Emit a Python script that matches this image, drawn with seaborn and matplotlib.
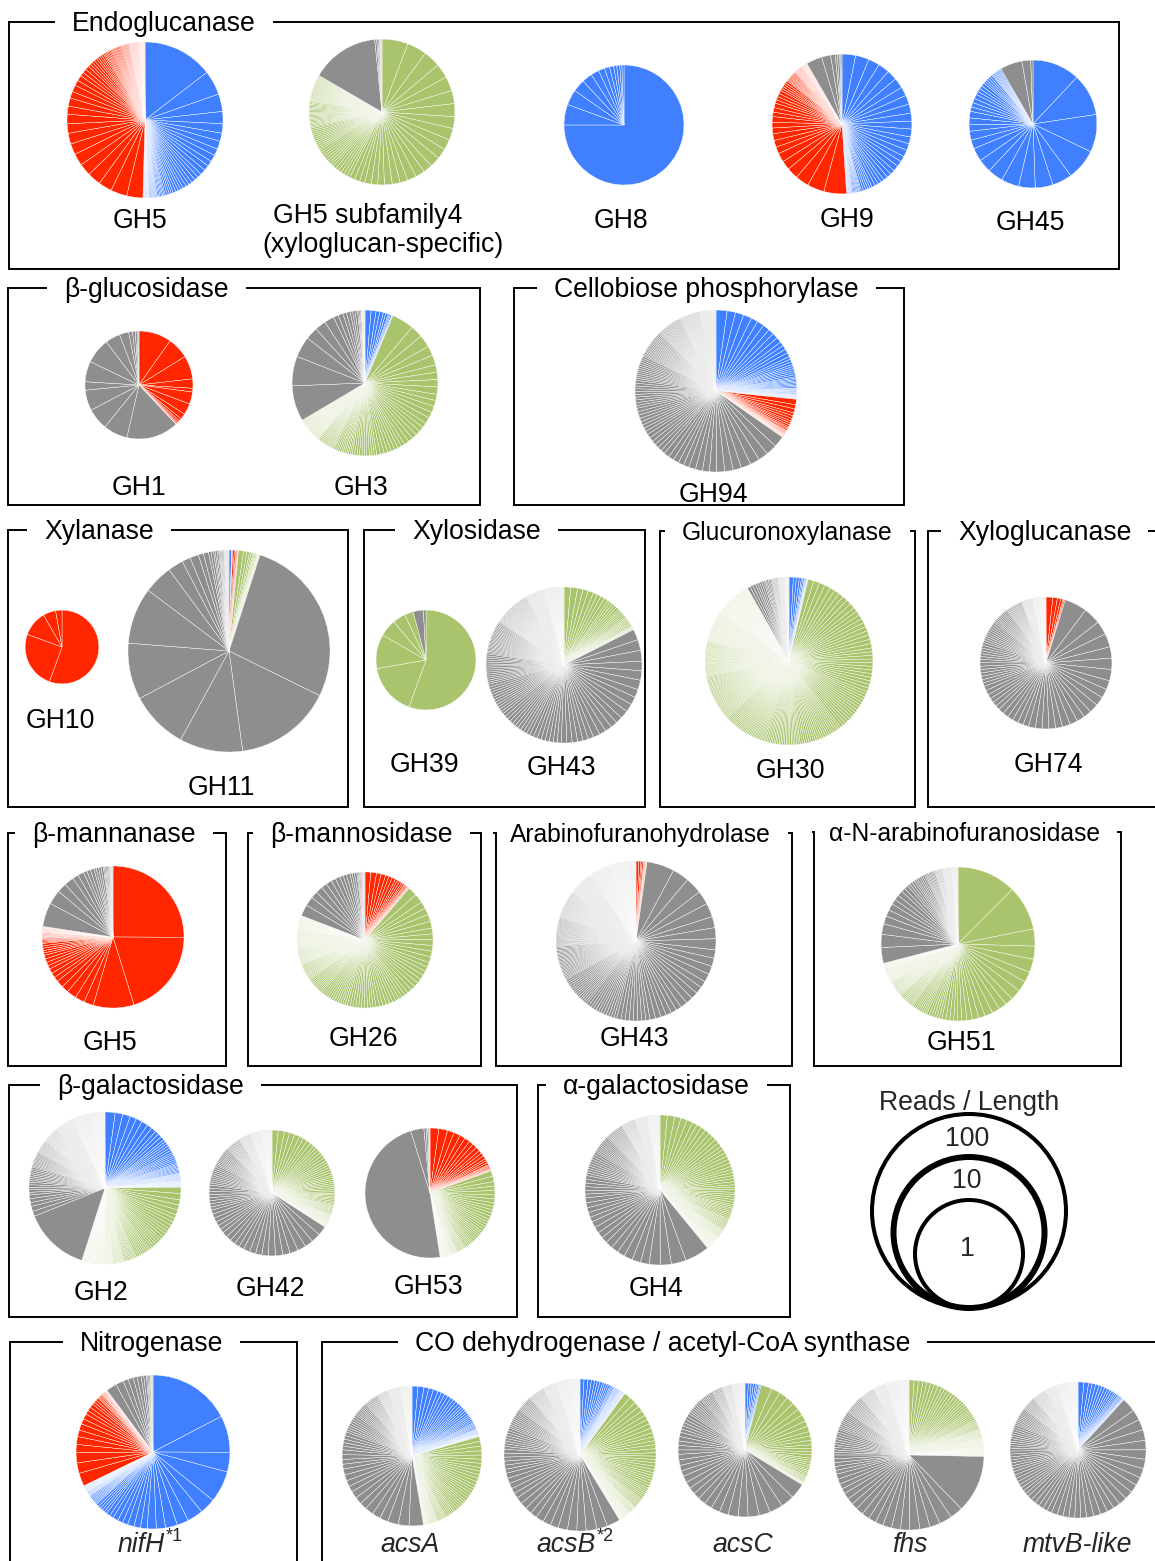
import matplotlib
matplotlib.use("Agg")
import matplotlib.pyplot as plt
from matplotlib.patches import Circle
import numpy as np
import seaborn as sns

W, H = 1155, 1561

sns.set_theme(style="white")
plt.rcParams["font.family"] = ["Liberation Sans", "DejaVu Sans"]

# taxonomic groups -> colours
PALETTE = dict(zip(["blue", "red", "green", "gray"],
                   sns.color_palette(["#4080FF", "#FF2600", "#A9C46C", "#8E8E8E"])))

# Wedge sizes of each pie as (size, number of wedges) runs, in drawing order
# (from 12 o'clock, clockwise). Each wedge is one gene.
gh5_endo = {
    "blue": [(52, 1), (18, 1), (13, 1), (9, 1), (7, 1), (6, 2), (5, 2), (4, 3), (3, 3), (2.5, 3),
             (2, 4), (1.5, 4), (1, 6), (0.6, 10), (0.3, 15)],
    "red": [(12, 2), (10, 2), (9, 2), (8, 2), (7, 2), (6, 2), (5, 2), (4, 2), (3, 3), (2, 4),
            (1.5, 4), (1, 6), (0.8, 10), (0.6, 10), (0.3, 25), (0.15, 30)],
}
gh5_sub4 = {
    "green": [(20, 1), (15, 1), (13, 1), (11, 2), (10, 2), (9, 2), (8, 3), (7, 3), (6, 3), (5, 3),
              (4, 3), (2.5, 6), (2, 8), (1.5, 12), (1, 20), (0.7, 30)],
    "gray": [(52, 1), (1.5, 1), (1, 2), (0.5, 4)],
}
gh8 = {
    "blue": [(270, 1), (20, 1), (15, 1), (12, 1), (10, 1), (8, 1), (6, 1), (5, 1), (4, 1), (3, 2), (2, 2)],
}
gh9 = {
    "blue": [(12, 2), (10, 2), (9, 2), (8, 3), (7, 3), (6, 3), (5, 3), (4, 3), (3, 4), (2, 5), (1, 8), (0.5, 10)],
    "red": [(20, 1), (15, 1), (12, 1), (10, 1), (8, 2), (6, 3), (5, 3), (4, 3), (3, 4), (2, 5), (1, 10),
            (0.5, 16), (0.25, 20)],
    "gray": [(14, 1), (8, 1), (4, 1), (2, 2), (1, 2)],
}
gh45 = {
    "blue": [(43, 1), (38, 1), (34, 1), (28, 1), (18, 1), (16, 1), (15, 1), (16, 1), (14, 1), (12, 2),
             (8, 2), (6, 3), (4, 4), (3, 4), (2, 5), (1, 10)],
    "gray": [(20, 1), (8, 1), (2, 1)],
}
gh1 = {
    "red": [(35, 1), (23, 1), (25, 1), (10, 1), (4, 1), (13, 1), (12, 1), (6, 1), (3, 1), (2, 1),
            (1.5, 1), (1, 1), (0.5, 1)],
    "gray": [(56, 1), (26, 1), (23, 1), (22, 1), (9, 1), (22, 1), (27, 1), (16, 1), (10, 1), (4, 1),
             (3, 1), (2, 1), (1, 2)],
}
gh3 = {
    "blue": [(5, 1), (4, 1), (3, 2), (2, 2), (1, 3), (0.5, 2)],
    "green": [(18, 1), (10, 2), (8, 2), (6, 4), (5, 5), (4, 6), (3, 8), (2, 10), (1.5, 10), (1, 15), (0.5, 40)],
    "gray": [(29, 1), (24, 1), (17, 1), (10, 1), (9, 1), (8, 1), (4, 2), (3, 2), (2, 3), (1, 3), (0.3, 10)],
}
gh94 = {
    "blue": [(8, 1), (6, 3), (5, 3), (4, 3), (3, 4), (2, 3), (1.5, 6), (1, 8), (0.5, 10), (0.25, 12)],
    "red": [(4, 1), (3, 2), (2, 3), (1.5, 3), (1, 3), (0.5, 6), (0.25, 10)],
    "gray": [(8, 2), (7, 3), (6, 3), (5, 4), (4, 5), (3, 6), (2.5, 8), (2, 10), (1.5, 12), (1, 20),
             (0.7, 25), (0.5, 30), (0.3, 40)],
}
gh10 = {
    "red": [(200, 1), (90, 1), (40, 1), (20, 1), (10, 1)],
}
gh11 = {
    "blue": [(1.5, 1), (0.3, 2)],
    "red": [(1, 1), (0.8, 1), (0.5, 2), (0.3, 2)],
    "green": [(3, 1), (2, 1), (1.5, 1), (1, 2), (0.6, 4), (0.3, 6)],
    "gray": [(100, 1), (57, 1), (37, 1), (34, 1), (33, 2), (17, 1), (9, 1), (5, 2), (3, 2), (1.5, 2),
             (1, 3), (0.6, 5), (0.3, 10)],
}
gh39 = {
    "green": [(200, 1), (60, 1), (40, 1), (20, 1), (15, 1), (10, 1)],
    "gray": [(12, 1), (3, 1)],
}
gh43_xyl = {
    "green": [(5, 2), (4, 3), (3, 4), (2, 5), (1.5, 5), (1, 8), (0.5, 6)],
    "gray": [(8, 3), (7, 3), (6, 4), (5, 5), (4, 6), (3, 8), (2.5, 10), (2, 12), (1.5, 15), (1, 25),
             (0.6, 45), (0.35, 40), (0.25, 60)],
}
gh30 = {
    "blue": [(3, 1), (2, 2), (1.5, 1), (1, 2), (0.5, 3), (0.25, 4)],
    "green": [(4, 4), (3.5, 6), (3, 10), (2.5, 12), (2, 15), (1.5, 20), (1.2, 20), (1, 30), (0.8, 40),
              (0.6, 40), (0.35, 60), (0.25, 100)],
    "gray": [(2, 3), (1.5, 4), (1, 5), (0.6, 8), (0.3, 15), (0.2, 15)],
}
gh74 = {
    "red": [(6, 1), (4, 1), (3, 1), (2, 1), (1, 2)],
    "gray": [(20, 1), (15, 1), (12, 2), (10, 3), (8, 4), (7, 4), (6, 5), (5, 6), (4, 6), (3, 8), (2.5, 6),
             (2, 10), (1.5, 10), (1, 15), (0.5, 20), (0.3, 20), (0.2, 30)],
}
gh5_man = {
    "red": [(92, 1), (74, 1), (34, 1), (8, 3), (6, 2), (4, 3), (3, 4), (2, 5), (1, 4), (0.5, 10), (0.25, 20)],
    "gray": [(20, 1), (12, 1), (8, 2), (5, 2), (3, 3), (2, 4), (1, 5), (0.5, 6)],
}
gh26 = {
    "red": [(5, 2), (4, 2), (3, 3), (2, 3), (1.5, 2), (1, 3), (0.5, 4)],
    "green": [(8, 2), (6, 4), (5, 6), (4, 8), (3, 10), (2.5, 10), (2, 12), (1.5, 10), (1, 15), (0.6, 25),
              (0.4, 40), (0.3, 40)],
    "gray": [(10, 1), (8, 1), (6, 2), (5, 2), (4, 2), (3, 3), (2, 3), (1, 4), (0.5, 6)],
}
gh43_arab = {
    "red": [(2, 1), (1.5, 1), (1, 2), (0.5, 3), (0.3, 3)],
    "gray": [(20, 1), (12, 2), (10, 2), (8, 3), (6, 4), (5, 5), (4, 6), (3, 8), (2, 12), (1.5, 15), (1, 25),
             (0.7, 30), (0.5, 40), (0.35, 50), (0.25, 60), (0.2, 100)],
}
gh51 = {
    "green": [(45, 1), (34, 1), (13, 1), (10, 2), (8, 3), (6, 4), (5, 2), (4, 2), (3, 5), (2, 6), (1.5, 8),
              (1, 12), (0.6, 20), (0.35, 30), (0.25, 20)],
    "gray": [(12, 1), (10, 1), (8, 1), (6, 1), (5, 2), (4, 3), (3, 2), (2, 3), (1.5, 6), (1, 8), (0.6, 10),
             (0.35, 20), (0.25, 20)],
}
gh2 = {
    "blue": [(8, 1), (6, 2), (5, 3), (4, 2), (3, 3), (2, 6), (1.5, 6), (1, 8), (0.5, 12), (0.25, 20)],
    "green": [(5, 2), (4, 3), (3, 4), (2.5, 4), (2, 6), (1.5, 8), (1, 10), (0.6, 15), (0.35, 20),
              (0.25, 30), (0.2, 50)],
    "gray": [(52, 1), (4, 2), (3, 3), (2, 5), (1.5, 8), (1, 12), (0.7, 15), (0.5, 25), (0.35, 40),
             (0.25, 60), (0.2, 60)],
}
gh42 = {
    "green": [(6, 2), (5, 3), (4, 4), (3, 6), (2.5, 6), (2, 8), (1.5, 8), (1, 10), (0.6, 10), (0.4, 10), (0.3, 10)],
    "gray": [(9, 2), (8, 3), (7, 3), (6, 4), (5, 5), (4, 6), (3, 8), (2, 10), (1.5, 12), (1, 15), (0.6, 20),
             (0.35, 30), (0.25, 40)],
}
gh53 = {
    "red": [(8, 2), (6, 2), (5, 2), (4, 3), (3, 3), (2, 3), (1, 4), (0.5, 4)],
    "green": [(5, 2), (4, 3), (3.5, 3), (3, 4), (2.5, 5), (2, 6), (1.5, 6), (1, 8), (0.6, 10), (0.35, 15), (0.25, 20)],
    "gray": [(174, 1), (12, 1), (2, 1), (1.5, 1), (1, 1), (0.5, 2)],
}
gh4 = {
    "green": [(6, 2), (5, 3), (4, 4), (3.5, 4), (3, 6), (2.5, 6), (2, 8), (1.5, 8), (1, 10), (0.6, 12),
              (0.35, 20), (0.25, 20)],
    "gray": [(20, 1), (12, 1), (9, 2), (7, 3), (6, 3), (5, 4), (4, 5), (3, 6), (2, 10), (1.5, 10), (1, 15),
             (0.6, 20), (0.35, 30), (0.25, 40)],
}
nifh = {
    "blue": [(63, 1), (28, 1), (15, 1), (24, 1), (12, 2), (9, 2), (7, 2), (5, 3), (4, 3), (3, 2), (2, 5),
             (1, 8), (0.5, 8), (0.25, 20)],
    "red": [(10, 1), (8, 2), (6, 2), (5, 2), (4, 2), (3, 3), (2, 3), (1, 4), (0.5, 6), (0.25, 8)],
    "gray": [(8, 1), (6, 1), (4, 2), (3, 2), (2, 2), (1, 3), (0.5, 4)],
}
acsa = {
    "blue": [(5, 2), (4, 3), (3, 4), (2.5, 4), (2, 5), (1.5, 5), (1, 6), (0.5, 8), (0.25, 10)],
    "green": [(4, 3), (3.5, 4), (3, 5), (2.5, 6), (2, 6), (1.5, 6), (1, 8), (0.6, 10), (0.35, 10), (0.25, 10)],
    "gray": [(12, 1), (9, 2), (7, 3), (6, 3), (5, 4), (4, 4), (3, 5), (2, 8), (1.5, 8), (1, 12), (0.6, 16),
             (0.35, 30), (0.25, 40)],
}
acsb = {
    "blue": [(3, 2), (2.5, 2), (2, 3), (1.5, 4), (1, 3), (0.6, 8), (0.35, 10), (0.25, 4)],
    "green": [(5, 2), (4, 3), (3.5, 4), (3, 5), (2.5, 6), (2, 6), (1.5, 6), (1, 8), (0.6, 10), (0.35, 15),
              (0.25, 15)],
    "gray": [(10, 1), (8, 2), (7, 3), (6, 3), (5, 4), (4, 5), (3, 6), (2, 8), (1.5, 10), (1, 12), (0.6, 20),
             (0.35, 30), (0.25, 40), (0.2, 40)],
}
acsc = {
    "blue": [(3, 1), (2.5, 1), (2, 2), (1.5, 2), (1, 2)],
    "green": [(10, 1), (8, 2), (7, 2), (6, 2), (5, 2), (4, 3), (3, 4), (2, 5), (1.5, 4), (1, 6), (0.5, 6)],
    "gray": [(14, 1), (12, 2), (10, 2), (9, 2), (8, 2), (7, 2), (6, 4), (5, 4), (4, 5), (3, 6), (2, 8),
             (1.5, 8), (1, 10), (0.6, 15), (0.35, 20), (0.25, 20)],
}
fhs = {
    "green": [(4, 1), (3.5, 2), (3, 5), (2.5, 6), (2, 6), (1.5, 6), (1, 8), (0.6, 12), (0.35, 20), (0.25, 30)],
    "gray": [(45, 1), (10, 2), (8, 3), (7, 3), (6, 4), (5, 3), (4, 4), (3, 5), (2, 10), (1.5, 10), (1, 15),
             (0.6, 20), (0.35, 30), (0.25, 40), (0.2, 40)],
}
mtvb = {
    "blue": [(5, 1), (4, 1), (3, 3), (2.5, 3), (2, 3), (1.5, 3), (1, 4), (0.5, 4)],
    "gray": [(12, 1), (9, 3), (8, 4), (7, 4), (6, 5), (5, 6), (4, 6), (3, 8), (2.5, 8), (2, 10), (1.5, 10),
             (1, 12), (0.6, 20), (0.35, 30), (0.25, 40), (0.2, 40)],
}

# reads / length of each gene family (sets pie size)
abundance = {
    "gh5_endo": 13.1, "gh5_sub4": 7.6, "gh8": 1.9, "gh9": 5.5, "gh45": 2.9,
    "gh1": 1.0, "gh3": 7.6, "gh94": 18.0,
    "gh10": 0.16, "gh11": 154.0, "gh39": 0.65, "gh43_xyl": 13.1, "gh30": 24.8, "gh74": 3.6,
    "gh5_man": 6.2, "gh26": 4.5, "gh43_arab": 16.2, "gh51": 11.7,
    "gh2": 10.6, "gh42": 2.6, "gh53": 3.25, "gh4": 9.5,
    "nifh": 11.7, "acsa": 5.5, "acsb": 10.6, "acsc": 4.0, "fhs": 9.5, "mtvb": 4.5,
}

LEGEND_VALUES = [100, 10, 1]
LEGEND_LABELS = ["100", "10", "1"]

# ---------------------------------------------------------------- layout
# pie: data, key, centre (px from top-left)
PIES = [
    (gh5_endo, "gh5_endo", 145, 120), (gh5_sub4, "gh5_sub4", 382, 112), (gh8, "gh8", 624, 125),
    (gh9, "gh9", 842, 124), (gh45, "gh45", 1033, 124),
    (gh1, "gh1", 139, 385), (gh3, "gh3", 365, 383), (gh94, "gh94", 716, 391),
    (gh10, "gh10", 62, 647), (gh11, "gh11", 229, 651), (gh39, "gh39", 426, 660),
    (gh43_xyl, "gh43_xyl", 564, 665), (gh30, "gh30", 789, 661), (gh74, "gh74", 1046, 663),
    (gh5_man, "gh5_man", 113, 937), (gh26, "gh26", 365, 940), (gh43_arab, "gh43_arab", 636, 941),
    (gh51, "gh51", 958, 944),
    (gh2, "gh2", 105, 1188), (gh42, "gh42", 272, 1193), (gh53, "gh53", 430, 1193), (gh4, "gh4", 660, 1190),
    (nifh, "nifh", 153, 1452), (acsa, "acsa", 412, 1456), (acsb, "acsb", 580, 1455),
    (acsc, "acsc", 745, 1450), (fhs, "fhs", 909, 1455), (mtvb, "mtvb", 1078, 1450),
]

# pie labels: text, x centre, cap-centre y
LABELS = [
    ("GH5", 140, 218), ("GH5 subfamily4", 368, 213), ("(xyloglucan-specific)", 383, 242),
    ("GH8", 621, 218), ("GH9", 847, 217), ("GH45", 1030, 220),
    ("GH1", 139, 485), ("GH3", 361, 485), ("GH94", 713, 492),
    ("GH10", 60, 718), ("GH11", 221, 785), ("GH39", 424, 762), ("GH43", 561, 765),
    ("GH30", 790, 768), ("GH74", 1048, 762),
    ("GH5", 110, 1040), ("GH26", 363, 1037), ("GH43", 634, 1037), ("GH51", 961, 1040),
    ("GH2", 101, 1290), ("GH42", 270, 1287), ("GH53", 428, 1285), ("GH4", 656, 1286),
]
# italic gene labels: text, superscript, x (centre, or right edge if superscript), y
GENE_LABELS = [
    ("nifH", "*1", 165, 1542), ("acsA", None, 410, 1542), ("acsB", "*2", 596, 1542),
    ("acsC", None, 743, 1542), ("fhs", None, 910, 1542), ("mtvB-like", None, 1077, 1542),
]

# boxes: title, left, top, right, bottom, title x, font size
BOXES = [
    ("Endoglucanase", 9, 22, 1119, 269, 72, 19.2),
    ("β-glucosidase", 8, 288, 480, 505, 64, 19.2),
    ("Cellobiose phosphorylase", 514, 288, 904, 505, 554, 19.2),
    ("Xylanase", 8, 530, 348, 807, 44, 19.2),
    ("Xylosidase", 364, 530, 645, 807, 412, 19.2),
    ("Glucuronoxylanase", 660, 531, 915, 807, 682, 17.7),
    ("Xyloglucanase", 928, 531, 1170, 807, 958, 19.2),
    ("β-mannanase", 8, 833, 226, 1066, 32, 19.2),
    ("β-mannosidase", 248, 833, 481, 1066, 270, 19.2),
    ("Arabinofuranohydrolase", 496, 833, 792, 1066, 510, 17.7),
    ("α-N-arabinofuranosidase", 814, 832, 1121, 1066, 829, 17.7),
    ("β-galactosidase", 9, 1085, 517, 1317, 57, 19.2),
    ("α-galactosidase", 538, 1085, 790, 1317, 563, 19.2),
    ("Nitrogenase", 10, 1342, 297, 1600, 80, 19.2),
    ("CO dehydrogenase / acetyl-CoA synthase", 322, 1342, 1170, 1600, 415, 19.2),
]

FS = 19.2
CAP_HALF = 9.5   # half cap height in px at FS


def radius(v):
    """Pie radius in px for a reads/length value (log scale)."""
    return 54 + 21.5 * np.log10(v)


def expand(groups):
    sizes, colors = [], []
    for key, runs in groups.items():
        for size, n in runs:
            sizes += [size] * n
            colors += [PALETTE[key]] * n
    return sizes, colors


fig = plt.figure(figsize=(W / 100, H / 100), dpi=100)
ax = fig.add_axes([0, 0, 1, 1])

for groups, key, cx, cy in PIES:
    sizes, colors = expand(groups)
    ax.pie(sizes, colors=colors, center=(cx, H - cy), radius=radius(abundance[key]),
           startangle=90, counterclock=False, frame=True,
           wedgeprops=dict(edgecolor="white", linewidth=0.3))

ax.set_xlim(0, W)
ax.set_ylim(0, H)
ax.set_aspect("equal")
ax.axis("off")

for text, x, y in LABELS:
    ax.text(x, H - (y + CAP_HALF), text, fontsize=FS, ha="center", va="baseline", color="black")

for text, sup, x, y in GENE_LABELS:
    if sup is None:
        ax.text(x, H - (y + CAP_HALF), text, fontsize=FS, style="italic", ha="center", va="baseline")
    else:
        ax.text(x, H - (y + CAP_HALF), text, fontsize=FS, style="italic", ha="right", va="baseline")
        ax.text(x + 1, H - (y - 1), sup, fontsize=13, ha="left", va="baseline")

renderer = fig.canvas.get_renderer()
inv = ax.transData.inverted()
GAP = 17
for title, x0, y0, x1, y1, tx, fs in BOXES:
    t = ax.text(tx, H - (y0 + 9), title, fontsize=fs, ha="left", va="baseline", color="black")
    bb = t.get_window_extent(renderer)
    (tl, _), (tr, _) = inv.transform([(bb.x0, bb.y0), (bb.x1, bb.y1)])
    xs = [tl - GAP, x0, x0, x1, x1, tr + GAP]
    ys = [y0, y0, y1, y1, y0, y0]
    ax.plot(xs, [H - v for v in ys], color="black", lw=1.4, solid_joinstyle="miter",
            solid_capstyle="butt", clip_on=True)

# size legend: nested circles sharing the same bottom point
ax.text(969, H - (1100 + CAP_HALF), "Reads / Length", fontsize=FS, ha="center", va="baseline")
bottom = 1308
for v, lw in zip(LEGEND_VALUES, [2.9, 4.3, 2.9]):
    r = radius(v)
    ax.add_patch(Circle((969, H - (bottom - r)), r, fill=False, edgecolor="black", lw=lw))
for lab, ly in zip(LEGEND_LABELS, [1136, 1178, 1247]):
    ax.text(967, H - (ly + CAP_HALF), lab, fontsize=FS, ha="center", va="baseline")

fig.savefig("out.png", dpi=100, facecolor="white")
